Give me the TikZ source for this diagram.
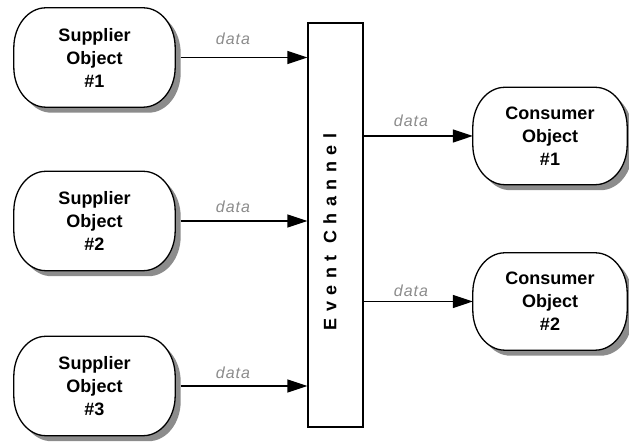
\documentclass[tikz,border=0pt]{standalone}
\usepackage{fontspec}
\setmainfont{Liberation Sans}
\usetikzlibrary{arrows.meta}

% rounded object outline around a named node
\newcommand{\objoutline}[1]{%
 ([xshift=32pt]#1.north west) -- ([xshift=-32pt]#1.north east)
 arc[start angle=90,end angle=0,x radius=32pt,y radius=40pt]
 -- ([yshift=40pt]#1.south east)
 arc[start angle=0,end angle=-90,x radius=32pt,y radius=40pt]
 -- ([xshift=32pt]#1.south west)
 arc[start angle=270,end angle=180,x radius=32pt,y radius=40pt]
 -- ([yshift=-40pt]#1.north west)
 arc[start angle=180,end angle=90,x radius=32pt,y radius=40pt]
 -- cycle}

\definecolor{shadowc}{RGB}{140,140,140}
\definecolor{labelc}{RGB}{140,140,140}

\tikzset{
  objfont/.style={font=\bfseries\fontsize{18}{23}\selectfont, align=center},
  supframe/.style={inner sep=0pt, minimum width=161pt, minimum height=99pt},
  conframe/.style={inner sep=0pt, minimum width=154pt, minimum height=97pt},
  objline/.style={draw=black, line width=1.3pt},
  arr/.style={line width=1.3pt, -{Triangle[length=20pt,width=13pt]}},
  lbl/.style={text=labelc, inner sep=0pt,
    font=\itshape\fontsize{16}{16}\selectfont\addfontfeature{LetterSpace=6}},
}

\begin{document}
\begin{tikzpicture}[x=1pt,y=1pt]
\useasboundingbox (0,0) rectangle (629,443);

% frames of the objects
\node[supframe] (s1) at (94.5,385.5) {};
\node[supframe] (s2) at (94.5,222) {};
\node[supframe] (s3) at (94.5,57) {};
\node[conframe] (c1) at (550,307) {};
\node[conframe] (c2) at (550,141.5) {};

% frames of their drop shadows
\node[supframe] (s1sh) at (100,380) {};
\node[supframe] (s2sh) at (100,216.5) {};
\node[supframe] (s3sh) at (100,51.5) {};
\node[conframe] (c1sh) at (555.5,301.5) {};
\node[conframe] (c2sh) at (555.5,136) {};

% drop shadows
\path[fill=shadowc] \objoutline{s1sh};
\path[fill=shadowc] \objoutline{s2sh};
\path[fill=shadowc] \objoutline{s3sh};
\path[fill=shadowc] \objoutline{c1sh};
\path[fill=shadowc] \objoutline{c2sh};

% white bodies with black outlines
\path[objline, fill=white] \objoutline{s1};
\path[objline, fill=white] \objoutline{s2};
\path[objline, fill=white] \objoutline{s3};
\path[objline, fill=white] \objoutline{c1};
\path[objline, fill=white] \objoutline{c2};

% object texts
\node[objfont] (t1) at (s1) {Supplier\\Object\\\#1};
\node[objfont] (t2) at (s2) {Supplier\\Object\\\#2};
\node[objfont] (t3) at (s3) {Supplier\\Object\\\#3};
\node[objfont] (t4) at (c1) {Consumer\\Object\\\#1};
\node[objfont] (t5) at (c2) {Consumer\\Object\\\#2};

% event channel
\node[draw, line width=1.3pt, fill=white, inner sep=0pt,
      minimum width=55pt, minimum height=404pt] (ch) at (335.5,218) {};
\node[rotate=90, inner sep=0pt,
      font=\bfseries\fontsize{18}{18}\selectfont\addfontfeature{LetterSpace=36}]
      (chl) at (330,211) {Event Channel};

% data flows
\draw[arr] (s1sh.east |- s1.east) -- (s1.east -| ch.west);
\draw[arr] (s2sh.east |- s2.east) -- (s2.east -| ch.west);
\draw[arr] (s3sh.east |- s3.east) -- (s3.east -| ch.west);
\draw[arr] (ch.east |- c1.west) -- (c1.west);
\draw[arr] (ch.east |- c2.west) -- (c2.west);

\node[lbl] (d1) at (233,404) {data};
\node[lbl] (d2) at (233,236) {data};
\node[lbl] (d3) at (233,70) {data};
\node[lbl] (d4) at (411,322) {data};
\node[lbl] (d5) at (411,152) {data};
\end{tikzpicture}
\end{document}
